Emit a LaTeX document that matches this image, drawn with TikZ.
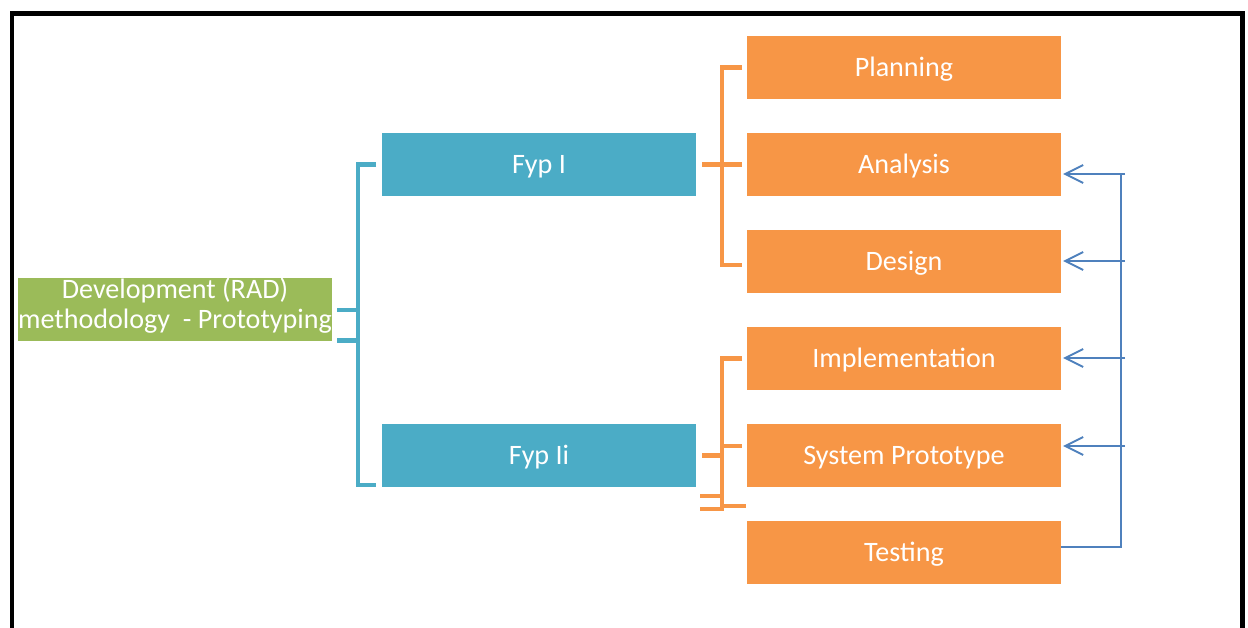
\documentclass[tikz,border=0pt]{standalone}
\usepackage{fontspec}
\setmainfont{Carlito}
\usepackage{tikz}
\usetikzlibrary{positioning,calc,arrows.meta}
\definecolor{radgreen}{HTML}{9BBB59}
\definecolor{fypblue}{HTML}{4BACC6}
\definecolor{phaseorange}{HTML}{F79646}
\definecolor{loopblue}{HTML}{4F81BD}

\begin{document}
\begin{tikzpicture}[
		box/.style={inner sep=0pt, outer sep=0pt, minimum width=6.28cm, minimum height=1.26cm, text=white, text height=13.2pt, text depth=3pt, font=\fontsize{16}{17.6}\selectfont},
		phase/.style={box, fill=phaseorange},
		fyp/.style={box, fill=fypblue},
		bluebracket/.style={draw=fypblue, line width=2.8pt},
		orangebracket/.style={draw=phaseorange, line width=2.8pt},
		loopline/.style={draw=loopblue, line width=1.1pt},
	]
		\useasboundingbox (0,0) rectangle (24.96,-12.56);
		\draw[line width=2.8pt] (0.24,-12.9) -- (0.24,-0.27) -- (24.85,-0.27) -- (24.85,-12.9);
		
		\node[phase] (plan) at (18.08,-1.35) {Planning};
		\node[phase, below=0.68cm of plan] (ana) {Analysis};
		\node[phase, below=0.68cm of ana] (des) {Design};
		\node[phase, below=0.68cm of des] (imp) {Implementation};
		\node[phase, below=0.68cm of imp] (proto) {System Prototype};
		\node[phase, below=0.68cm of proto] (test) {Testing};
		
		\node[fyp, left=1.02cm of ana] (fyp1) {Fyp I};
		\node[fyp, left=1.02cm of proto] (fyp2) {Fyp Ii};
		\node[box, fill=radgreen, anchor=east, text height=11.1pt, text depth=24.3pt, font=\fontsize{16}{17}\selectfont] (rad) at ($(fyp1.west)!0.5!(fyp2.west)+(-1cm,0)$) {\begin{tabular}[t]{@{}c@{}}Development (RAD)\\methodology\ \ - Prototyping\end{tabular}};
		
		\coordinate (bb) at ($(fyp2.south west)+(-0.48,0.04)$);
		\draw[bluebracket] ($(fyp1.west)+(-0.12,0)$) -| (bb) -- ++(0.36,0);
		\draw[bluebracket] ($(rad.east)+(0.1,0)$) -- (rad.east -| bb);
		\draw[bluebracket] ($(rad.south east)+(0.1,0.02)$) -- ($(rad.south east -| bb)+(0,0.02)$);
		
		\coordinate (ot) at ($(plan.west)+(-0.5,0)$);
		\draw[orangebracket] ($(plan.west)+(-0.1,0)$) -- (ot) |- ($(des.west)+(-0.1,-0.07)$);
		\draw[orangebracket] ($(fyp1.east)+(0.12,0)$) -- ($(ana.west)+(-0.1,0)$);
		
		\coordinate (lb) at ($(proto.south west)+(-0.5,-0.44)$);
		\draw[orangebracket] ($(imp.west)+(-0.1,0)$) -| (lb) -- ++(-0.44,0);
		\draw[orangebracket] ($(proto.west)+(-0.5,0.19)$) -- ++(0.4,0);
		\draw[orangebracket] ($(fyp2.east)+(0.12,0)$) -- ++(0.4,0);
		\draw[orangebracket] ($(fyp2.south east)+(0.08,-0.18)$) -- ++(0.44,0);
		\draw[orangebracket] ($(lb)+(0,0.06)$) -- ++(0.48,0);
		
		\coordinate (bustop) at ($(ana.east)+(1.2,-0.19)$);
		\draw[loopline] ($(test.east)+(0,0.11)$) -| (bustop);
		\foreach \n/\dy in {ana/-0.19, des/0.01, imp/0.01, proto/0.19}
			\draw[loopline, -{Straight Barb[length=3.6mm, width=3.6mm]}] ($(\n.east)+(1.28,\dy)$) -- ($(\n.east)+(0.04,\dy)$);
	\end{tikzpicture}
\end{document}
